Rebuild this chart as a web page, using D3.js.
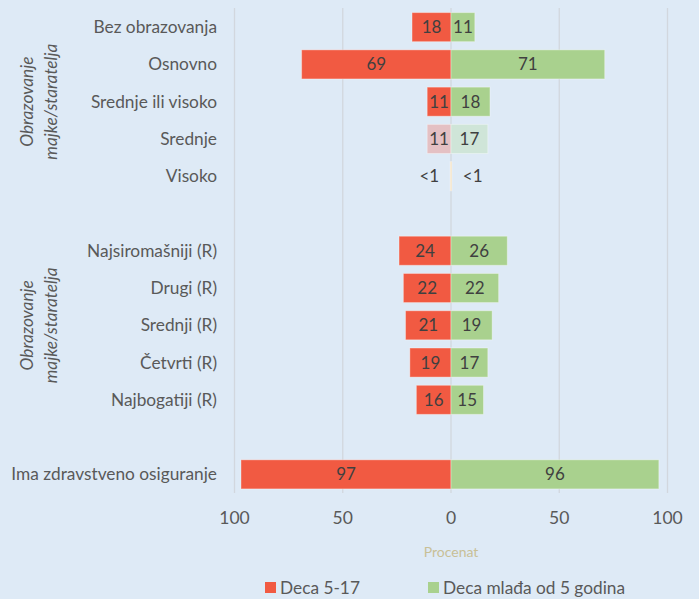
<!DOCTYPE html>
<html><head><meta charset="utf-8">
<script src="https://cdn.jsdelivr.net/npm/d3@7"></script>
<style>
html,body{margin:0;padding:0;background:#deeaf6;}
svg{display:block;font-family:"Lato","Open Sans",sans-serif;}
</style></head>
<body>
<script>
const categories = ["Bez obrazovanja","Osnovno","Srednje ili visoko","Srednje","Visoko","gap1",
  "Najsiromašniji (R)","Drugi (R)","Srednji (R)","Četvrti (R)","Najbogatiji (R)","gap2","Ima zdravstveno osiguranje"];
const older = [18,69,11,11,0.4,null,24,22,21,19,16,null,97];      // Deca 5-17
const younger = [11,71,18,17,0.4,null,26,22,19,17,15,null,96];   // Deca mlađa od 5 godina
const olderLabels = ["18","69","11","11","<1",null,"24","22","21","19","16",null,"97"];
const youngerLabels = ["11","71","18","17","<1",null,"26","22","19","17","15",null,"96"];
const faded = [false,false,false,true,true,false,false,false,false,false,false,false,false];
const ticks = [-100,-50,0,50,100];
const seriesNames = ["Deca 5-17","Deca mlađa od 5 godina"];
const groupTitles = [["Obrazovanje","majke/staratelja"],["Obrazovanje","majke/staratelja"]];
const groupRanges = [[0,4],[6,10]];

const W=699,H=599;
const svg=d3.select("body").append("svg").attr("width",W).attr("height",H);
svg.append("rect").attr("width",W).attr("height",H).attr("fill","#deeaf6");

const x=d3.scaleLinear().domain([-100,100]).range([234.5,667.5]);
const y=d3.scaleBand().domain(categories).range([8.5,493]).paddingInner(0.22).paddingOuter(0.11);

const colRed="#f15a42", colGreen="#a9d18e";
const colRedF="#e4c0c3", colGreenF="#cfe5d8";
const colVis="#f3dcb6";

// gridlines
svg.append("g").selectAll("line").data(ticks).join("line")
  .attr("x1",d=>x(d)).attr("x2",d=>x(d)).attr("y1",8).attr("y2",493)
  .attr("stroke","#d2d7de").attr("stroke-width",1.3);

// axis tick labels
svg.append("g").selectAll("text").data(ticks).join("text")
  .attr("x",d=>x(d)).attr("y",524).attr("text-anchor","middle")
  .attr("font-size",17.5).attr("fill","#595959").text(d=>Math.abs(d));

svg.append("text").attr("x",x(0)).attr("y",557).attr("text-anchor","middle")
  .attr("font-size",14).attr("fill","#c8c096").text("Procenat");

const rows=categories.map((c,i)=>({c,i,o:older[i],yv:younger[i],ol:olderLabels[i],yl:youngerLabels[i],f:faded[i]})).filter(d=>d.o!==null);

const bh=y.bandwidth();
// older bars (left)
svg.append("g").selectAll("rect").data(rows).join("rect")
  .attr("x",d=>x(-d.o)).attr("width",d=>x(0)-x(-d.o))
  .attr("y",d=>y(d.c)).attr("height",bh)
  .attr("fill",d=>d.c==="Visoko"?colVis:(d.f?colRedF:colRed))
  .attr("stroke","rgba(255,255,255,0.35)").attr("stroke-width",1);
// younger bars (right)
svg.append("g").selectAll("rect").data(rows).join("rect")
  .attr("x",x(0)).attr("width",d=>x(d.yv)-x(0))
  .attr("y",d=>y(d.c)).attr("height",bh)
  .attr("fill",d=>d.c==="Visoko"?colVis:(d.f?colGreenF:colGreen))
  .attr("stroke","rgba(255,255,255,0.35)").attr("stroke-width",1);

// value labels
svg.append("g").selectAll("text").data(rows).join("text")
  .attr("x",d=>d.o<2?x(-10):(x(-d.o)+x(0))/2)
  .attr("y",d=>y(d.c)+bh/2).attr("dy","0.35em").attr("text-anchor","middle")
  .attr("font-size",17).attr("fill","#404040").text(d=>d.ol);
svg.append("g").selectAll("text").data(rows).join("text")
  .attr("x",d=>d.yv<2?x(10):(x(d.yv)+x(0))/2)
  .attr("y",d=>y(d.c)+bh/2).attr("dy","0.35em").attr("text-anchor","middle")
  .attr("font-size",17).attr("fill","#404040").text(d=>d.yl);

// category labels
svg.append("g").selectAll("text").data(rows).join("text")
  .attr("x",217).attr("y",d=>y(d.c)+bh/2).attr("dy","0.35em").attr("text-anchor","end")
  .attr("font-size",17.3).attr("fill","#595959").text(d=>d.c);

// group titles
groupRanges.forEach((r,gi)=>{
  const cy=(y(categories[r[0]])+y(categories[r[1]])+bh)/2;
  const t=svg.append("text").attr("transform",`translate(38,${cy}) rotate(-90)`)
    .attr("text-anchor","middle").attr("font-size",17.3).attr("font-style","italic").attr("fill","#595959");
  t.append("tspan").attr("x",0).attr("y",-5).text(groupTitles[gi][0]);
  t.append("tspan").attr("x",0).attr("y",19).text(groupTitles[gi][1]);
});

// legend
const leg=[{n:seriesNames[0],c:colRed,x:265},{n:seriesNames[1],c:colGreen,x:428}];
const lg=svg.append("g").selectAll("g").data(leg).join("g");
lg.append("rect").attr("x",d=>d.x).attr("y",582).attr("width",11).attr("height",11).attr("fill",d=>d.c);
lg.append("text").attr("x",d=>d.x+15).attr("y",588).attr("dy","0.35em").attr("font-size",17.3).attr("fill","#595959").text(d=>d.n);
</script>
</body></html>
